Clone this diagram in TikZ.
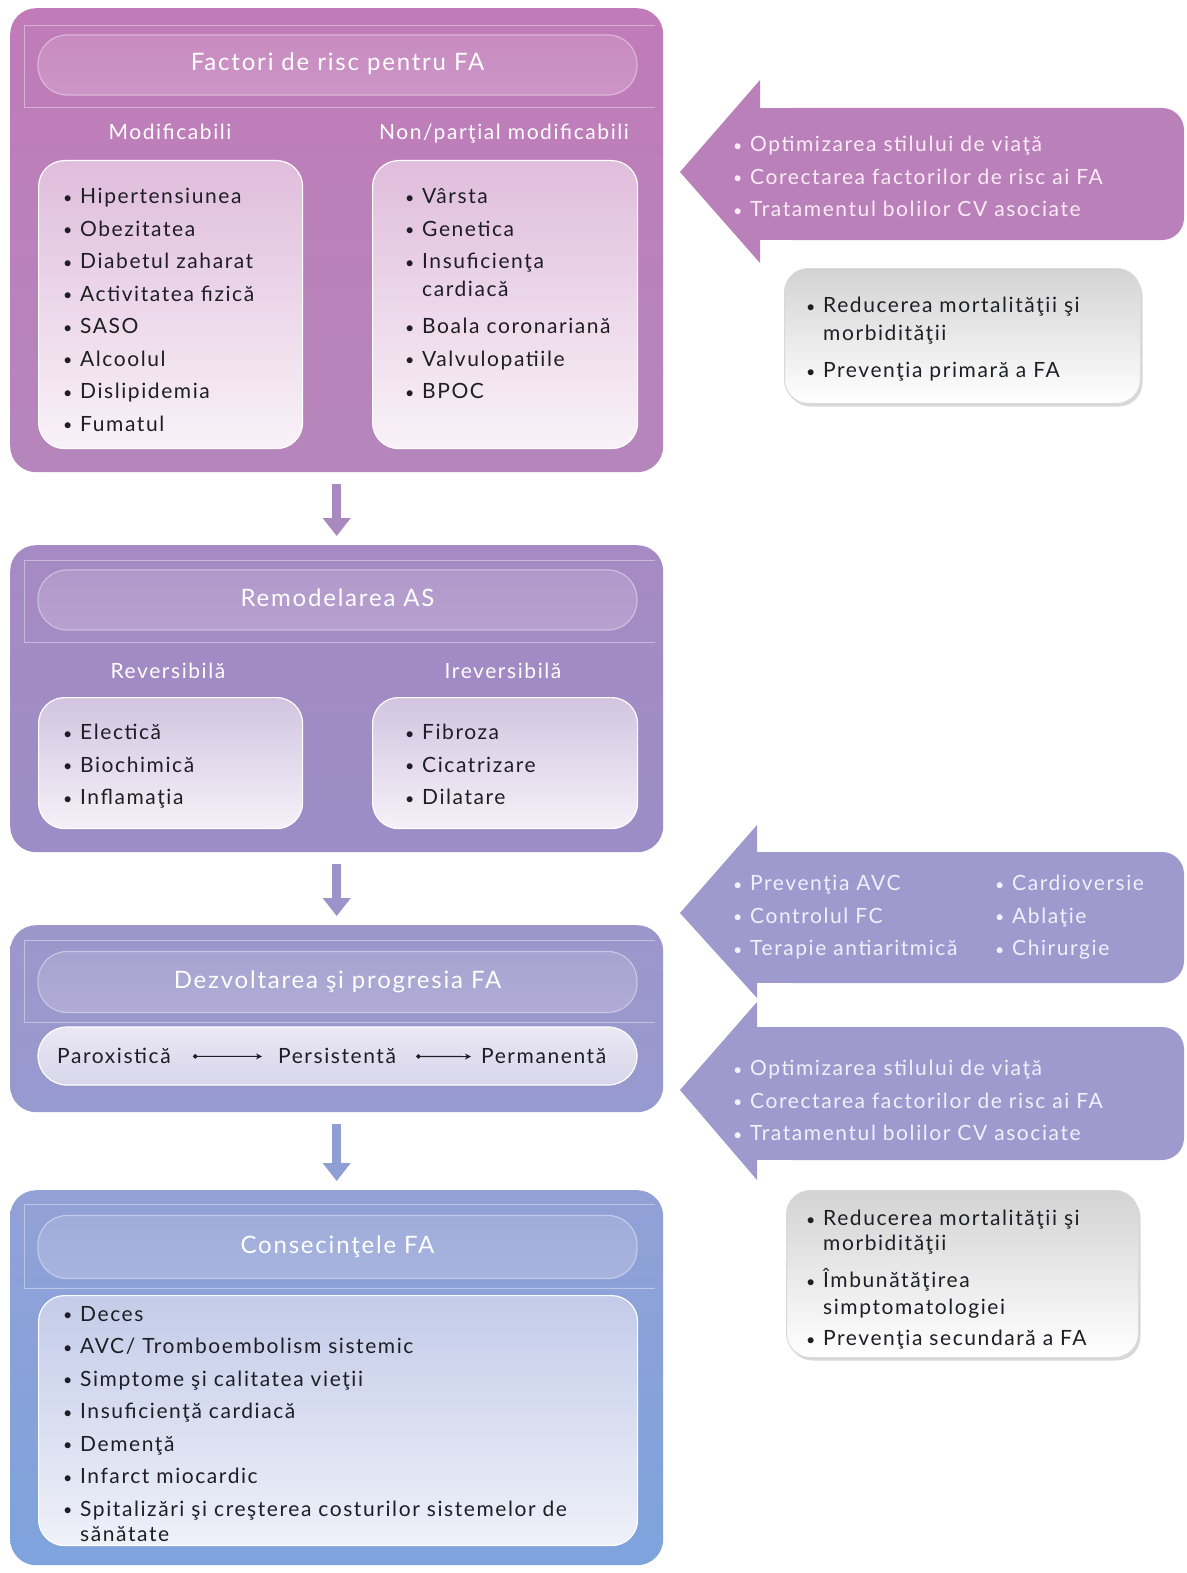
\documentclass[tikz,border=0pt]{standalone}
\usepackage{fontspec}
\setmainfont{Lato}[LetterSpace=7.5]
\usetikzlibrary{arrows.meta,shadows}
\definecolor{bAtop}{HTML}{C07BB8}
\definecolor{bAbot}{HTML}{B486BC}
\definecolor{bBtop}{HTML}{A68AC3}
\definecolor{bBbot}{HTML}{9C8DC6}
\definecolor{bCtop}{HTML}{9D96CB}
\definecolor{bCbot}{HTML}{979ACF}
\definecolor{bDtop}{HTML}{92A1D6}
\definecolor{bDbot}{HTML}{7EA3DD}
\definecolor{arA}{HTML}{A88AC0}
\definecolor{arB}{HTML}{9B93CA}
\definecolor{arC}{HTML}{8F9FD4}
\definecolor{rpink}{HTML}{BA80BA}
\definecolor{rblue}{HTML}{9E9ACE}
\definecolor{txtdark}{HTML}{1E1E26}
\definecolor{gtop}{HTML}{D3D3D3}
\newcommand\fsItem{\fontsize{21}{32.5}\selectfont}
\newcommand\fsTitle{\fontsize{24}{30}\selectfont}
\newcommand\fsSub{\fontsize{21}{26}\selectfont}
\newcommand\bu{\makebox[17pt][l]{\raisebox{0.5pt}{\fontsize{16}{16}\selectfont•}}}
\newcommand\hang{\hspace*{17pt}}
\begin{document}
\begin{tikzpicture}[x=1pt,y=-1pt,
  bigbox/.style={anchor=north west, rounded corners=26pt, inner sep=0pt, draw=none},
  pill/.style={rounded corners=29pt, minimum width=599pt, minimum height=60pt, inner sep=0pt,
     line width=1.2pt, text=white, font=\fsTitle, text height=17pt, text depth=5pt},
  inbox/.style={anchor=north west, rounded corners=26pt, inner sep=0pt, draw=white, line width=1.2pt},
  frameline/.style={draw=white, draw opacity=0.4, line width=0.8pt},
  subhead/.style={text=white, font=\fsSub, inner sep=0pt, anchor=base},
  items/.style={anchor=north west, align=left, inner sep=0pt, font=\fsItem, text=txtdark},
  ritems/.style={items, text=white!92!magenta},
  bitems/.style={items, text=white!94!blue},
  flow/.style={line width=8.5pt, -{Triangle[width=27pt,length=18pt]}, shorten <=12pt, shorten >=9pt},
  prog/.style={line width=1.1pt, {Circle[length=4.5pt]}-{Stealth[length=6pt,width=6pt]}, txtdark},
  plabel/.style={anchor=base west, inner sep=0pt, font=\fsItem, text=txtdark},
  graybox/.style={anchor=north west, rounded corners=24pt, top color=gtop, bottom color=white,
     draw=gray!30, line width=1pt, inner sep=0pt,
     drop shadow={shadow xshift=2pt, shadow yshift=-3pt, opacity=0.3}},
]
\useasboundingbox (0,0) rectangle (1186,1573);
\fill[white] (0,0) rectangle (1186,1573);

% ---------- Box 1 ----------
\node[bigbox, minimum width=653pt, minimum height=464pt, top color=bAtop, bottom color=bAbot] (b1) at (10,8) {};
\draw[frameline] (655,25) -- (24,25) -- (24,107) -- (655,107);
\node[pill, top color=bAtop!88!white, bottom color=bAtop!80!white, draw=bAtop!55!white] (t1) at (337.5,65) {Factori de risc pentru FA};
\node[subhead] (s1a) at (170,140) {Modificabili};
\node[subhead] (s1b) at (504,140) {Non/parţial modificabili};
\node[inbox, minimum width=264pt, minimum height=288pt, top color=bAtop!50!white, bottom color=bAtop!10!white] (l1) at (38,160) {};
\node[inbox, minimum width=265pt, minimum height=288pt, top color=bAtop!50!white, bottom color=bAtop!10!white] (r1) at (372,160) {};
\node[items] (l1t) at (63,181) {\strut\bu Hipertensiunea\\ \bu Obezitatea\\ \bu Diabetul zaharat\\ \bu Activitatea fizică\\ \bu SASO\\ \bu Alcoolul\\ \bu Dislipidemia\\ \bu Fumatul};
\node[items] (r1t) at (405,181) {\strut\bu Vârsta\\ \bu Genetica\\ \bu Insuficienţa\\[-4.5pt] \hang cardiacă\\[4.5pt] \bu Boala coronariană\\ \bu Valvulopatiile\\ \bu BPOC};

% ---------- Box 2 ----------
\node[bigbox, minimum width=653pt, minimum height=307pt, top color=bBtop, bottom color=bBbot] (b2) at (10,545) {};
\draw[frameline] (655,560) -- (24,560) -- (24,642) -- (655,642);
\node[pill, top color=bBtop!88!white, bottom color=bBtop!80!white, draw=bBtop!55!white] (t2) at (337.5,600) {Remodelarea AS};
\node[subhead] (s2a) at (168,678) {Reversibilă};
\node[subhead] (s2b) at (503,678) {Ireversibilă};
\node[inbox, minimum width=264pt, minimum height=131pt, top color=bBtop!50!white, bottom color=bBtop!12!white] (l2) at (38,697) {};
\node[inbox, minimum width=265pt, minimum height=131pt, top color=bBtop!50!white, bottom color=bBtop!12!white] (r2) at (372,697) {};
\node[items] (l2t) at (63,717) {\strut\bu Electică\\ \bu Biochimică\\ \bu Inflamaţia};
\node[items] (r2t) at (405,717) {\strut\bu Fibroza\\ \bu Cicatrizare\\ \bu Dilatare};

% ---------- Box 3 ----------
\node[bigbox, minimum width=653pt, minimum height=187pt, top color=bCtop, bottom color=bCbot] (b3) at (10,925) {};
\draw[frameline] (655,940) -- (24,940) -- (24,1022) -- (655,1022);
\node[pill, minimum height=61pt, top color=bCtop!88!white, bottom color=bCtop!80!white, draw=bCtop!55!white] (t3) at (337.5,982) {Dezvoltarea şi progresia FA};
\node[pill, minimum height=58pt, top color=bCtop!22!white, bottom color=bCtop!40!white, draw=white] (p3) at (337.5,1056) {};
\node[plabel] (pa) at (57,1063) {Paroxistică};
\node[plabel] (pe) at (278,1063) {Persistentă};
\node[plabel] (pm) at (481,1063) {Permanentă};
\draw[prog] ([xshift=22pt,yshift=-1pt]pa.east) -- ([xshift=-16pt,yshift=-1pt]pe.west);
\draw[prog] ([xshift=20pt,yshift=-1pt]pe.east) -- ([xshift=-10pt,yshift=-1pt]pm.west);

% ---------- Box 4 ----------
\node[bigbox, minimum width=653pt, minimum height=375pt, top color=bDtop, bottom color=bDbot] (b4) at (10,1190) {};
\draw[frameline] (655,1204) -- (24,1204) -- (24,1288) -- (655,1288);
\node[pill, minimum height=63pt, top color=bDtop!88!white, bottom color=bDtop!80!white, draw=bDtop!55!white] (t4) at (337.5,1247) {Consecinţele FA};
\node[inbox, minimum width=599pt, minimum height=250pt, top color=bDtop!55!white, bottom color=bDtop!15!white] (l4) at (38,1295) {};
\node[items] (l4t) at (63,1298.5) {\strut\bu Deces\\ \bu AVC/ Tromboembolism sistemic\\ \bu Simptome şi calitatea vieţii\\ \bu Insuficienţă cardiacă\\ \bu Demenţă\\ \bu Infarct miocardic\\ \bu Spitalizări şi creşterea costurilor sistemelor de\\[-7.5pt] \hang sănătate};

% ---------- vertical flow arrows ----------
\draw[flow, arA] (b1.south) -- (b2.north);
\draw[flow, arB] (b2.south) -- (b3.north);
\draw[flow, arC] (b3.south) -- (b4.north);

% ---------- right arrow 1 ----------
\fill[rpink] (760,80) -- (680,172) -- (760,263) -- cycle;
\fill[rpink] (758,108) rectangle (800,240);
\fill[rpink, rounded corners=22pt] (770,108) rectangle (1184,240);
\node[ritems] (ra1) at (733,129) {\strut\bu Optimizarea stilului de viaţă\\ \bu Corectarea factorilor de risc ai FA\\ \bu Tratamentul bolilor CV asociate};

\node[graybox, minimum width=356pt, minimum height=135pt] (g1) at (784,268) {};
\node[items] (g1t) at (806,290) {\strut\bu Reducerea mortalităţii şi\\[-4.5pt] \hang morbidităţii\\[4.5pt] \bu Prevenţia primară a FA};

% ---------- right arrow 2 ----------
\fill[rblue] (757,825) -- (680,913) -- (757,998) -- cycle;
\fill[rblue] (755,852) rectangle (800,983);
\fill[rblue, rounded corners=22pt] (770,852) rectangle (1184,983);
\node[bitems] (ra2a) at (733,868) {\strut\bu Prevenţia AVC\\ \bu Controlul FC\\ \bu Terapie antiaritmică};
\node[bitems] (ra2b) at (995,868) {\strut\bu Cardioversie\\ \bu Ablaţie\\ \bu Chirurgie};

% ---------- right arrow 3 ----------
\fill[rblue] (757,1002) -- (680,1090) -- (757,1180) -- cycle;
\fill[rblue] (755,1027) rectangle (800,1160);
\fill[rblue, rounded corners=22pt] (770,1027) rectangle (1184,1160);
\node[bitems] (ra3) at (733,1053) {\strut\bu Optimizarea stilului de viaţă\\ \bu Corectarea factorilor de risc ai FA\\ \bu Tratamentul bolilor CV asociate};

\node[graybox, minimum width=352pt, minimum height=167pt] (g2) at (786,1190) {};
\node[items] (g2t) at (806,1203) {\strut\bu Reducerea mortalităţii şi\\[-7.5pt] \hang morbidităţii\\[4.5pt] \bu Îmbunătăţirea\\[-5.5pt] \hang simptomatologiei\\[-1.5pt] \bu Prevenţia secundară a FA};
\end{tikzpicture}
\end{document}
